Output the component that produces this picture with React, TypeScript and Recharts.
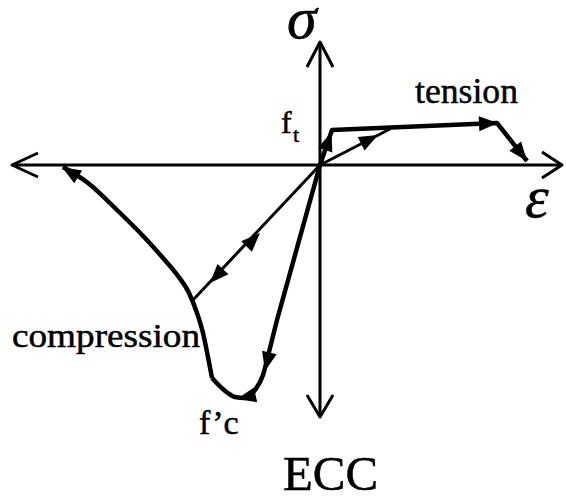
import React from 'react';
import { ComposedChart, Line, Scatter, XAxis, YAxis } from 'recharts';

// strain (ε) / stress (σ) in arbitrary schematic units
const X_AXIS = [{ x: -30.8, y: 0 }, { x: 24.2, y: 0 }];
const X_HEAD_LEFT = [{ x: -28.2, y: 1.2 }, { x: -30.8, y: 0 }, { x: -28.2, y: -1.2 }];
const X_HEAD_RIGHT = [{ x: 22.2, y: 1.3 }, { x: 24.2, y: 0 }, { x: 22.2, y: -1.3 }];
const Y_AXIS = [{ x: 0, y: 12.3 }, { x: 0, y: -25.2 }];
const Y_HEAD_TOP = [{ x: -1.3, y: 9.8 }, { x: 0, y: 12.3 }, { x: 1.3, y: 9.8 }];
const Y_HEAD_BOTTOM = [{ x: -1.3, y: -23.0 }, { x: 0, y: -25.2 }, { x: 1.3, y: -23.0 }];

const TENSION = [
  { x: 0, y: 0 },
  { x: 1.2, y: 3.5 },
  { x: 17.7, y: 4.2 },
  { x: 20.7, y: 0.4 },
];
const TENSION_UNLOAD = [{ x: 0, y: 0 }, { x: 7.0, y: 3.6 }];

const COMP_LOAD = [{ x: 0, y: 0 }, { x: -4.3, y: -15.5 }, { x: -5.2, y: -19.1 }];
const COMP_PEAK = [
  { x: -5.2, y: -19.1 },
  { x: -5.7, y: -21.0 },
  { x: -6.5, y: -22.5 },
  { x: -7.5, y: -23.3 },
  { x: -8.5, y: -23.2 },
  { x: -9.6, y: -22.5 },
  { x: -10.8, y: -21.3 },
];
const COMP_SOFTEN = [
  { x: -10.8, y: -21.3 },
  { x: -11.2, y: -19.2 },
  { x: -11.7, y: -16.8 },
  { x: -12.3, y: -14.8 },
  { x: -13.1, y: -12.8 },
  { x: -14.2, y: -11.1 },
  { x: -15.7, y: -9.3 },
  { x: -17.5, y: -7.3 },
  { x: -20.3, y: -4.5 },
  { x: -23.2, y: -1.8 },
  { x: -25.7, y: -0.2 },
];
const COMP_UNLOAD = [{ x: 0, y: 0 }, { x: -12.7, y: -13.5 }];

// arrow tip (x, y) and the point it comes from (fx, fy)
const ARROWS = [
  { x: 1.15, y: 3.3, fx: 0, fy: 0 },
  { x: 5.8, y: 3.0, fx: 0, fy: 0 },
  { x: 17.8, y: 4.2, fx: 1.2, fy: 3.5 },
  { x: 20.7, y: 0.4, fx: 17.7, fy: 4.2 },
  { x: -5.5, y: -20.6, fx: -4.3, fy: -15.5 },
  { x: -8.3, y: -23.4, fx: -6.5, fy: -23.0 },
  { x: -25.8, y: -0.2, fx: -23.2, fy: -1.8 },
  { x: -6.0, y: -6.8, fx: -12.7, fy: -13.5 },
  { x: -11.0, y: -11.8, fx: 0, fy: 0 },
];

const W = 566;
const H = 504;
const FONT = '"Liberation Serif", "Times New Roman", serif';

const ArrowHead = (props: any) => {
  const { cx, cy, payload } = props;
  if (cx == null || cy == null) return <g />;
  // x and y use the same px-per-unit, so the data direction is the screen direction
  const dx = payload.x - payload.fx;
  const dy = -(payload.y - payload.fy);
  const d = Math.hypot(dx, dy) || 1;
  const ux = dx / d;
  const uy = dy / d;
  const len = 19;
  const hw = 7.5;
  const bx = cx - ux * len;
  const by = cy - uy * len;
  const pts = [
    [cx, cy],
    [bx - uy * hw, by + ux * hw],
    [bx + uy * hw, by - ux * hw],
  ]
    .map((p) => p.join(','))
    .join(' ');
  return <polygon points={pts} fill="#000" />;
};

const line = (data: { x: number; y: number }[], width: number, type: any = 'linear') => (
  <Line
    data={data}
    dataKey="y"
    type={type}
    stroke="#000"
    strokeWidth={width}
    strokeLinejoin="round"
    dot={false}
    activeDot={false}
    isAnimationActive={false}
    legendType="none"
  />
);

const textStyle = { stroke: '#000', strokeWidth: 0.5 };

export default function App() {
  return (
    <div style={{ position: 'absolute', left: 0, top: 0, width: W, height: H, background: '#fff' }}>
      <ComposedChart width={W} height={H} margin={{ top: 0, right: 0, bottom: 0, left: 0 }}>
        <XAxis type="number" dataKey="x" domain={[-32, 24.6]} hide allowDataOverflow />
        <YAxis type="number" dataKey="y" domain={[-33.9, 16.5]} hide allowDataOverflow />
        {line(X_AXIS, 3)}
        {line(X_HEAD_LEFT, 3)}
        {line(X_HEAD_RIGHT, 3)}
        {line(Y_AXIS, 3)}
        {line(Y_HEAD_TOP, 3)}
        {line(Y_HEAD_BOTTOM, 3)}
        {line(TENSION, 4.5)}
        {line(TENSION_UNLOAD, 3)}
        {line(COMP_LOAD, 4.5)}
        {line(COMP_PEAK, 4.5, 'monotone')}
        {line(COMP_SOFTEN, 4.5, 'monotone')}
        {line(COMP_UNLOAD, 3)}
        <Scatter data={ARROWS} dataKey="y" shape={ArrowHead} isAnimationActive={false} legendType="none" />
      </ComposedChart>
      <svg
        width={W}
        height={H}
        style={{ position: 'absolute', left: 0, top: 0, pointerEvents: 'none' }}
        fontFamily={FONT}
      >
        <text x={287} y={38} fontSize={60} fontStyle="italic" style={textStyle}>σ</text>
        <text x={525} y={217} fontSize={60} fontStyle="italic" style={textStyle}>ε</text>
        <text x={415} y={103} fontSize={36} textLength={103} lengthAdjust="spacingAndGlyphs" style={textStyle}>tension</text>
        <text x={281} y={133} fontSize={32} style={textStyle}>f</text>
        <text x={293} y={142} fontSize={22} style={textStyle}>t</text>
        <text x={12} y={347} fontSize={34} textLength={188} lengthAdjust="spacingAndGlyphs" style={textStyle}>compression</text>
        <text x={199} y={434} fontSize={34} style={textStyle}>f’c</text>
        <text x={283} y={490} fontSize={48} textLength={95} lengthAdjust="spacingAndGlyphs" style={textStyle}>ECC</text>
      </svg>
    </div>
  );
}
